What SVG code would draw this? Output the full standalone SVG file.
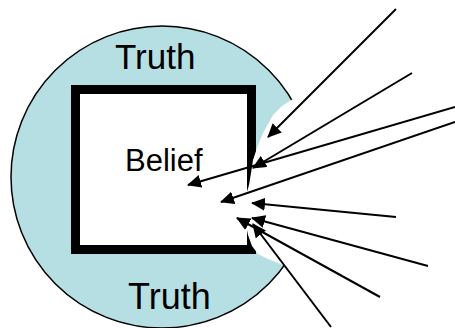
<svg xmlns="http://www.w3.org/2000/svg" width="455" height="328" viewBox="0 0 455 328">
  <defs>
    <marker id="ah" markerUnits="userSpaceOnUse" markerWidth="14" markerHeight="13" refX="13" refY="6.5" orient="auto" viewBox="0 0 14 13">
      <path d="M0,0 L14,6.5 L0,13 z" fill="#000"/>
    </marker>
  </defs>
  <style>
    .lbl { font-family: "Liberation Sans", Arial, sans-serif; fill: #000; }
    .arr { stroke: #000; stroke-width: 2; fill: none; marker-end: url(#ah); }
  </style>
  <rect width="455" height="328" fill="#fff"/>
  <g id="truth">
    <circle cx="162" cy="177" r="151" fill="#B6DFE3" stroke="#000" stroke-width="1.5"/>
  </g>
  <g id="belief">
    <rect x="75.5" y="89.5" width="176" height="160" fill="#fff" stroke="#000" stroke-width="9"/>
  </g>
  <g id="gap">
    <polygon points="300,92 293,99 282,106 273,115 263,133 257,148 253,160 251,173 249,185 246,195 245,210 246,225 248,235 252,246 258,254 268,259 283,265 300,270 330,270 330,92" fill="#fff"/>
  </g>
  <g id="labels">
    <text class="lbl" x="115" y="69" font-size="35">Truth</text>
    <text class="lbl" x="128" y="309" font-size="36">Truth</text>
    <text class="lbl" x="125" y="171" font-size="31">Belief</text>
  </g>
  <g id="connectors">
    <line class="arr" x1="396" y1="9" x2="268" y2="137"/>
    <line class="arr" x1="412" y1="73" x2="253" y2="168"/>
    <line class="arr" x1="455" y1="107" x2="188" y2="185"/>
    <line class="arr" x1="455" y1="122" x2="221" y2="202"/>
    <line class="arr" x1="396" y1="217" x2="252" y2="203"/>
    <line class="arr" x1="428" y1="266" x2="252" y2="218"/>
    <line class="arr" x1="380" y1="297" x2="237" y2="218"/>
    <line class="arr" x1="331" y1="327" x2="253" y2="224"/>
  </g>
</svg>
